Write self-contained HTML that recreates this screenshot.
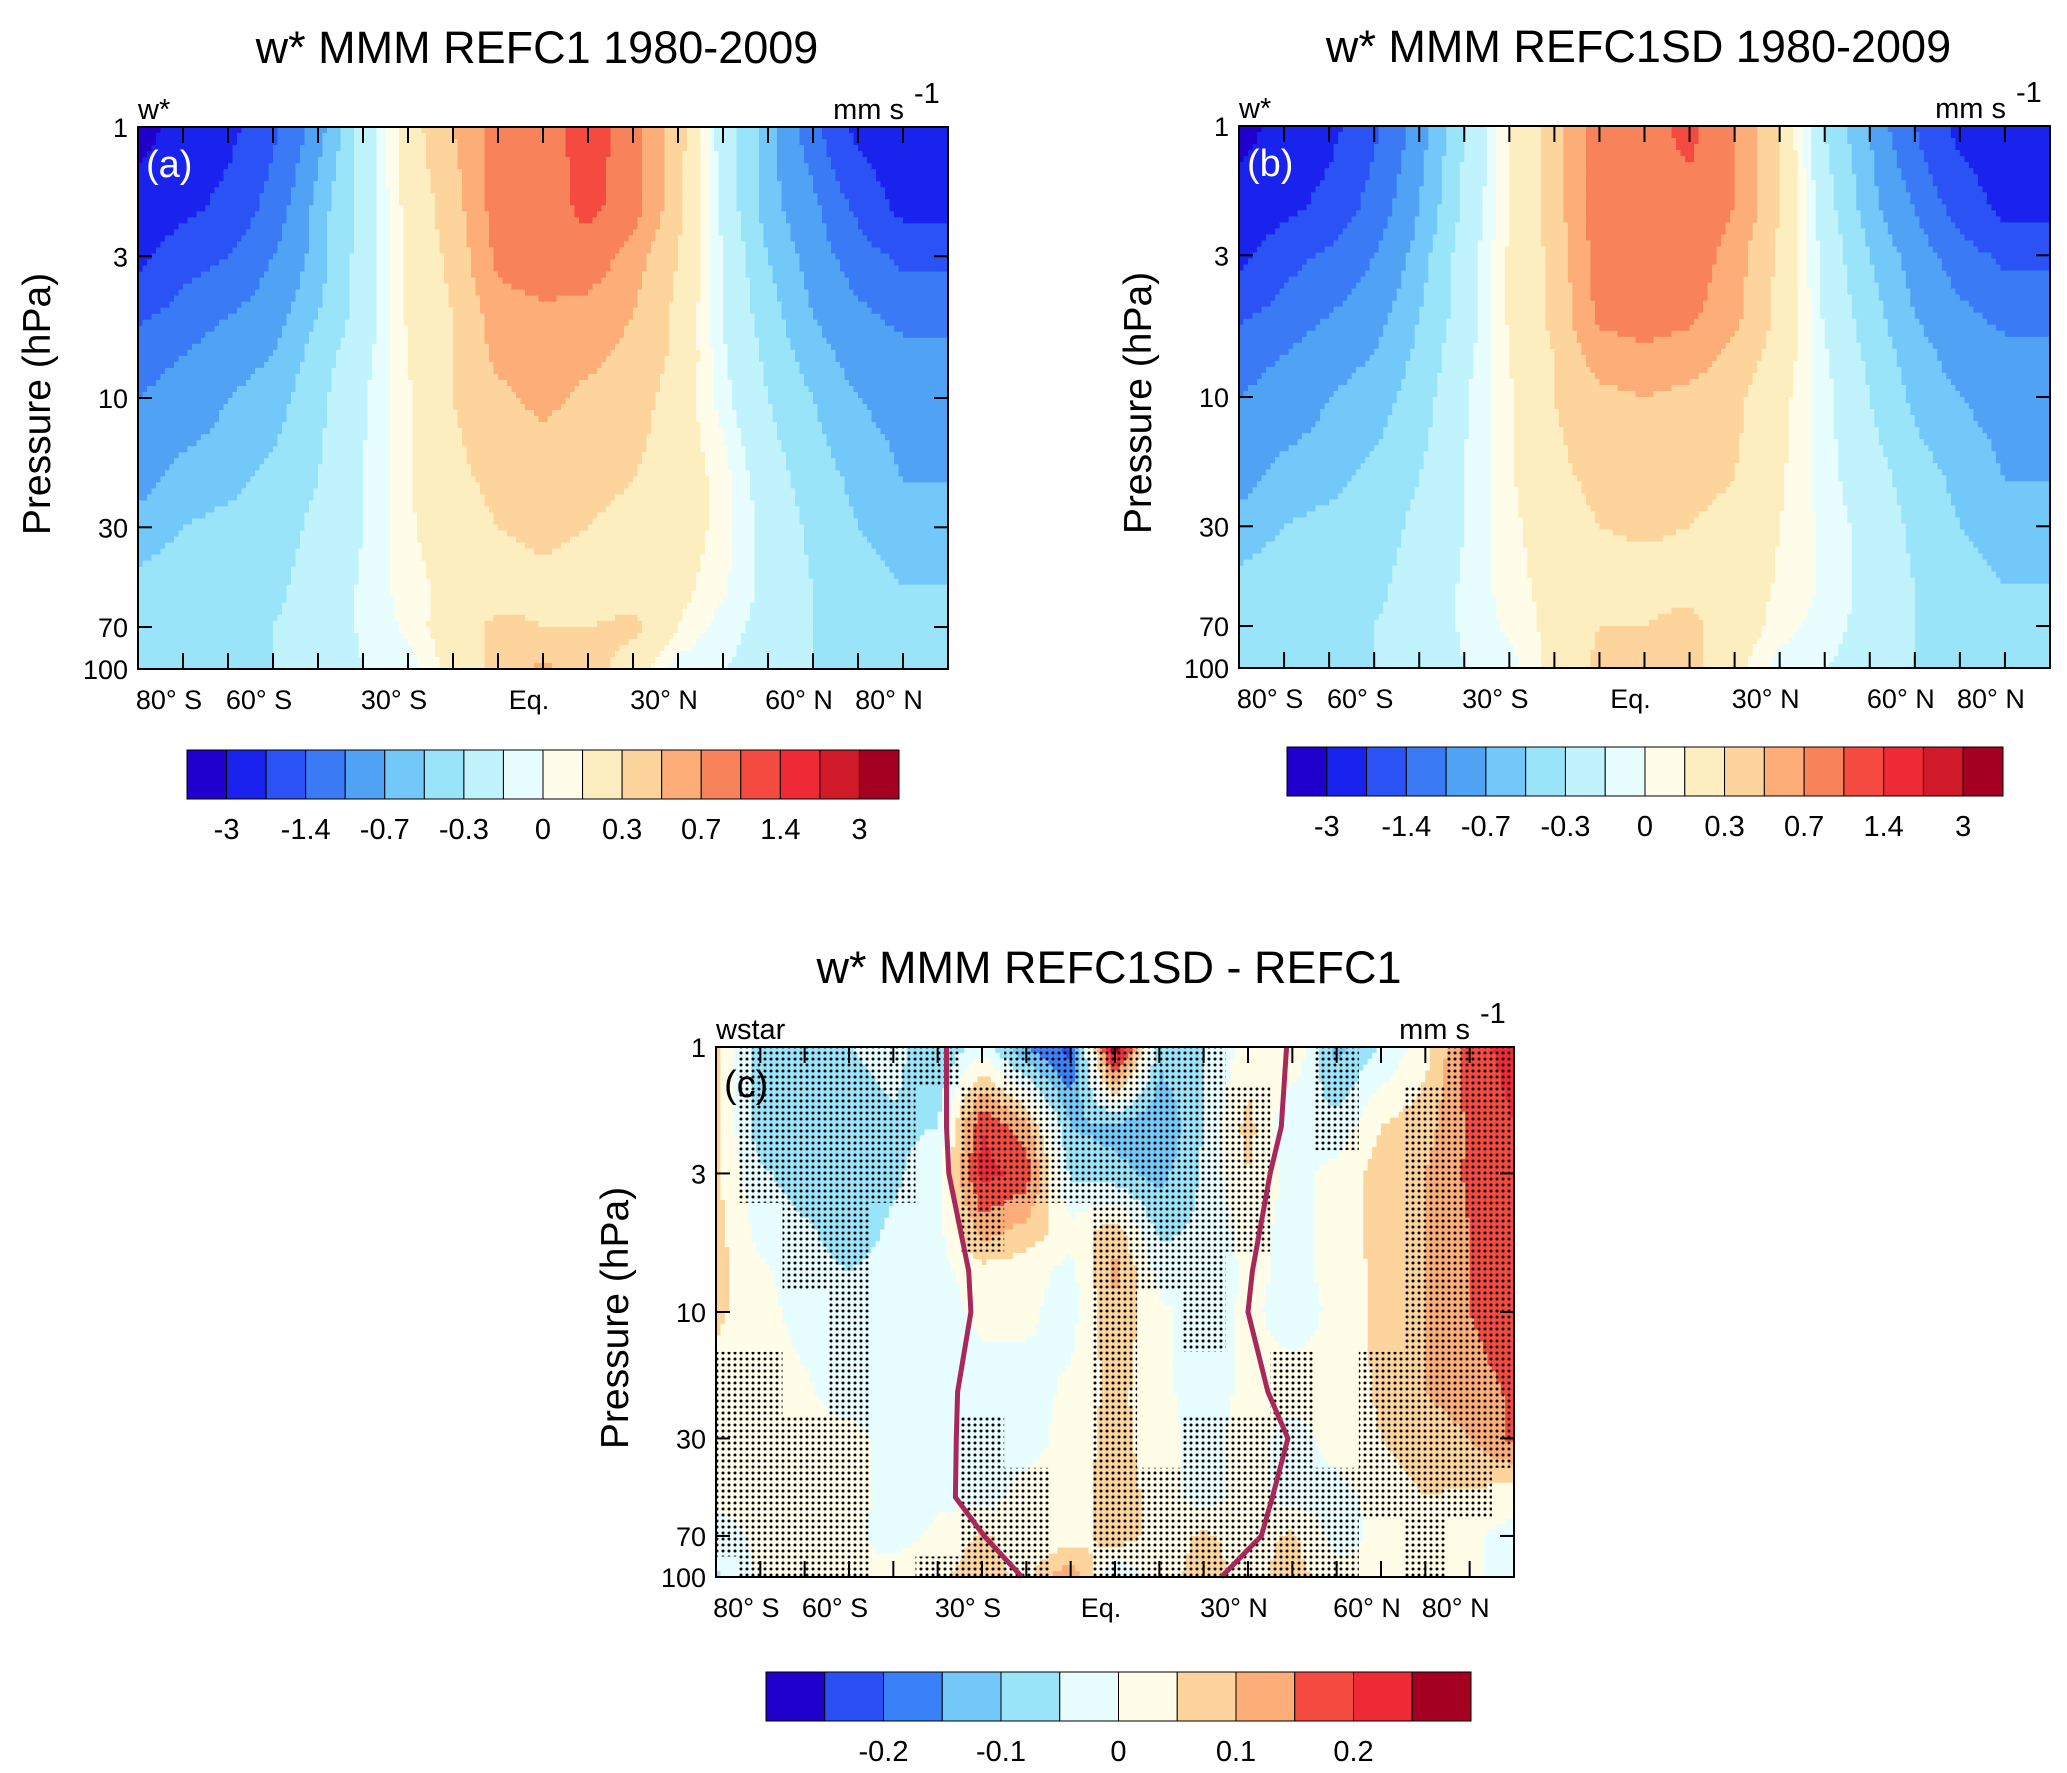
<!DOCTYPE html>
<html><head><meta charset="utf-8"><style>
html,body{margin:0;padding:0;background:#fff}
svg{display:block}
text{font-family:"Liberation Sans",Arial,sans-serif;fill:#000}
</style></head><body>
<svg id="fig" width="2067" height="1773" viewBox="0 0 2067 1773" xmlns="http://www.w3.org/2000/svg">
<defs>
<pattern id="stip" width="6" height="6" patternUnits="userSpaceOnUse"><circle cx="3" cy="3" r="1.5" fill="#000"/></pattern>
</defs>
</svg>
<script>
// ---- shared grid ----
const lats = [-90,-80,-70,-60,-50,-40,-30,-20,-10,0,10,20,30,40,50,60,70,80,90];
const levels = [1,2,3,5,7,10,20,30,50,70,100];
// ---- panel a: REFC1 (mm/s) ----
const valuesA = [
[-3.5,-2.5,-2.2,-1.5,-0.8,-0.2,0.2,0.5,0.8,0.8,1.2,0.8,0.4,-0.2,-0.6,-1.2,-2.2,-2.5,-2.5],
[-2.5,-2.2,-1.8,-1.2,-0.6,-0.2,0.15,0.4,0.8,0.8,1.1,0.8,0.35,-0.15,-0.6,-0.9,-1.5,-2.2,-2.2],
[-2.2,-1.6,-1.4,-1.0,-0.6,-0.2,0.15,0.35,0.75,0.85,0.85,0.6,0.3,-0.1,-0.5,-0.8,-1.2,-1.5,-1.5],
[-1.5,-1.2,-1.0,-0.8,-0.5,-0.2,0.12,0.3,0.6,0.65,0.6,0.5,0.25,-0.1,-0.4,-0.7,-0.9,-1.1,-1.1],
[-1.1,-1.0,-0.8,-0.7,-0.4,-0.15,0.1,0.3,0.55,0.6,0.55,0.45,0.25,-0.08,-0.35,-0.6,-0.8,-0.9,-0.9],
[-1.0,-0.9,-0.7,-0.6,-0.35,-0.12,0.08,0.3,0.45,0.55,0.45,0.4,0.2,-0.05,-0.3,-0.5,-0.7,-0.8,-0.8],
[-0.8,-0.6,-0.55,-0.45,-0.3,-0.1,0.08,0.25,0.35,0.4,0.35,0.3,0.2,0.05,-0.2,-0.4,-0.55,-0.7,-0.7],
[-0.6,-0.5,-0.45,-0.4,-0.25,-0.1,0.08,0.2,0.3,0.35,0.3,0.25,0.2,0.05,-0.15,-0.35,-0.5,-0.6,-0.6],
[-0.45,-0.4,-0.4,-0.35,-0.2,-0.08,0.05,0.15,0.2,0.25,0.2,0.2,0.15,0.02,-0.15,-0.3,-0.4,-0.5,-0.5],
[-0.4,-0.35,-0.35,-0.3,-0.2,-0.08,0.02,0.2,0.35,0.3,0.3,0.35,0.1,-0.05,-0.15,-0.3,-0.35,-0.5,-0.5],
[-0.35,-0.3,-0.3,-0.3,-0.2,-0.1,-0.05,0.15,0.35,0.55,0.4,0.2,-0.05,-0.1,-0.15,-0.3,-0.35,-0.5,-0.5]];
// ---- panel b: REFC1SD ----
const valuesB = [
[-3.5,-2.5,-2.2,-1.5,-0.8,-0.3,0.1,0.4,0.8,0.85,1.1,0.7,0.3,-0.3,-0.7,-1.4,-2.2,-2.5,-2.5],
[-2.5,-2.2,-1.8,-1.2,-0.7,-0.25,0.1,0.4,0.85,0.9,0.9,0.7,0.3,-0.2,-0.6,-1.0,-1.6,-2.2,-2.2],
[-2.2,-1.6,-1.3,-1.0,-0.6,-0.2,0.12,0.35,0.8,0.85,0.85,0.6,0.25,-0.15,-0.5,-0.8,-1.2,-1.5,-1.5],
[-1.5,-1.2,-1.0,-0.8,-0.5,-0.2,0.12,0.35,0.75,0.8,0.75,0.55,0.25,-0.12,-0.4,-0.7,-0.9,-1.1,-1.1],
[-1.1,-1.0,-0.8,-0.7,-0.45,-0.15,0.1,0.3,0.6,0.65,0.6,0.45,0.2,-0.08,-0.35,-0.6,-0.8,-0.9,-0.9],
[-1.0,-0.9,-0.7,-0.6,-0.4,-0.12,0.08,0.3,0.45,0.5,0.45,0.35,0.15,-0.05,-0.3,-0.55,-0.7,-0.8,-0.8],
[-0.8,-0.6,-0.55,-0.45,-0.3,-0.1,0.08,0.25,0.35,0.4,0.35,0.3,0.12,-0.05,-0.2,-0.4,-0.55,-0.7,-0.7],
[-0.6,-0.5,-0.45,-0.4,-0.25,-0.1,0.06,0.2,0.3,0.32,0.3,0.25,0.1,-0.03,-0.15,-0.35,-0.5,-0.6,-0.6],
[-0.45,-0.4,-0.4,-0.35,-0.2,-0.08,0.05,0.15,0.25,0.25,0.25,0.2,0.08,-0.02,-0.15,-0.3,-0.4,-0.5,-0.5],
[-0.4,-0.35,-0.35,-0.3,-0.2,-0.08,0.02,0.15,0.3,0.3,0.35,0.2,0.05,-0.05,-0.15,-0.3,-0.35,-0.5,-0.5],
[-0.35,-0.3,-0.3,-0.3,-0.2,-0.1,-0.05,0.15,0.35,0.5,0.35,0.15,-0.05,-0.1,-0.15,-0.3,-0.35,-0.5,-0.5]];
// ---- panel c: difference ----
const valuesC = [
[0.06,-0.08,-0.1,-0.05,-0.03,-0.1,-0.02,-0.15,-0.22,0.3,-0.08,-0.05,0.02,0.05,-0.12,-0.05,0.03,0.18,0.22],
[0.06,-0.08,-0.1,-0.08,-0.06,-0.05,0.2,0.12,-0.1,-0.12,-0.15,-0.05,0.07,-0.05,-0.03,0.05,0.08,0.16,0.2],
[0.06,-0.04,-0.08,-0.08,-0.06,-0.02,0.22,0.18,-0.06,-0.08,-0.12,-0.04,0.05,-0.02,0.02,0.07,0.1,0.16,0.2],
[0.07,-0.02,-0.04,-0.08,-0.04,-0.02,0.12,0.08,0.02,0.08,-0.06,-0.04,0.02,-0.02,0.02,0.07,0.1,0.15,0.2],
[0.07,0.01,-0.03,-0.05,-0.03,-0.02,0.03,0.02,-0.02,0.12,-0.02,-0.04,0.01,-0.01,0.01,0.07,0.1,0.15,0.2],
[0.06,0.02,-0.02,-0.04,-0.03,-0.02,0.01,0.01,-0.02,0.09,0.01,-0.02,0.01,-0.02,0.01,0.07,0.1,0.15,0.2],
[0.03,0.02,0.01,-0.03,-0.03,-0.02,-0.02,-0.02,0.01,0.07,0.01,-0.02,0.01,0.02,0.01,0.06,0.1,0.12,0.16],
[0.02,0.02,0.01,0.02,-0.02,-0.02,-0.02,-0.02,0.02,0.07,0.02,-0.02,0.02,-0.02,0.02,0.05,0.08,0.1,0.16],
[0.01,0.02,0.02,0.02,-0.02,-0.01,-0.02,0.02,0.01,0.09,0.02,-0.02,0.02,-0.02,-0.02,0.02,0.05,0.04,0.02],
[-0.02,0.01,0.02,0.01,-0.02,0.01,0.06,0.02,0.01,0.09,0.02,0.06,0.03,0.06,-0.02,0.01,0.02,0.01,-0.02],
[-0.06,0.01,0.02,0.01,0.02,0.04,0.08,0.03,0.15,-0.06,0.03,0.07,0.03,0.07,0.02,0.01,0.02,0.01,-0.02]];
const stippleC = [
[0,1,1,1,1,1,0,1,1,1,1,1,0,0,1,0,0,1,1],
[0,1,1,1,1,0,1,1,1,1,1,1,1,0,1,0,1,1,1],
[0,1,1,1,1,0,1,1,1,1,1,1,1,0,0,0,1,1,1],
[0,0,1,1,0,0,1,0,0,1,1,1,1,0,0,0,1,1,1],
[0,0,1,1,0,0,0,0,0,1,1,1,0,0,0,0,1,1,1],
[0,0,0,1,0,0,0,0,0,1,0,1,0,0,0,0,1,1,1],
[1,1,0,1,0,0,0,0,0,1,0,0,0,1,0,1,1,1,1],
[1,1,1,1,0,0,1,0,0,1,0,1,1,1,0,1,1,1,1],
[1,1,1,1,0,0,1,1,0,1,1,1,1,1,1,1,1,1,0],
[1,1,1,1,0,0,1,1,0,1,1,1,1,1,1,0,1,0,0],
[0,1,1,1,0,1,1,1,0,1,1,1,1,1,1,0,1,0,0]];
const pipeLevels = [1,2,3,7,10,20,30,50,70,100];
const pipeLeft = [-38,-38,-37.5,-33,-32.5,-35.5,-35.8,-36,-29.5,-21];
const pipeRight = [38.7,37.5,35,31,30,34.5,39,35.5,33,24];
// ---- colour scales ----
const boundsAB = [-3,-2,-1.4,-1,-0.7,-0.5,-0.3,-0.1,0,0.1,0.3,0.5,0.7,1,1.4,2,3];
const colorsAB = ["#2000cc","#1a22ee","#2a52f5","#3a7af5","#50a2f5","#72c8f8","#9ae4fa","#c0f3fb","#e8fdfd","#fffdea","#fdeec0","#fdd49c","#fcad78","#f8825a","#f54a40","#ee2a36","#d01a2a","#a50022"];
const barLabelsAB = ["-3","-1.4","-0.7","-0.3","0","0.3","0.7","1.4","3"];
const boundsC = [-0.25,-0.2,-0.15,-0.1,-0.05,0,0.05,0.1,0.15,0.2,0.25];
const colorsC = ["#2000cc","#2a4ff5","#3a80f8","#72c8f8","#9ae4fa","#e8fdfd","#fffde8","#fdd49c","#fcad78","#f54a40","#ee2a36","#a50022"];
const barLabelsC = ["-0.2","-0.1","0","0.1","0.2"];
const yTicks = [1,3,10,30,70,100];
const xTickLabels = [[-80,"80° S"],[-60,"60° S"],[-30,"30° S"],[0,"Eq."],[30,"30° N"],[60,"60° N"],[80,"80° N"]];

const NS="http://www.w3.org/2000/svg";
const svg=document.getElementById('fig');
function mk(tag,attrs,parent){const e=document.createElementNS(NS,tag);for(const k in attrs)e.setAttribute(k,attrs[k]);(parent||svg).appendChild(e);return e;}
function txt(s,x,y,size,anchor,parent,extra){const t=mk('text',Object.assign({x:x,y:y,'font-size':size,'text-anchor':anchor||'start'},extra||{}),parent);t.textContent=s;return t;}
function classify(v,bounds){let i=0;while(i<bounds.length&&v>=bounds[i])i++;return i;}
function interp(vals,lat,lp){
  const li=Math.min(lats.length-2,Math.max(0,Math.floor((lat+90)/10)));
  const ft=(lat-lats[li])/10;
  const ll=levels.map(Math.log10);
  let k=0;while(k<ll.length-2&&lp>ll[k+1])k++;
  const fp=Math.max(0,Math.min(1,(lp-ll[k])/(ll[k+1]-ll[k])));
  const a=vals[k][li]*(1-ft)+vals[k][li+1]*ft;
  const b=vals[k+1][li]*(1-ft)+vals[k+1][li+1]*ft;
  return a*(1-fp)+b*fp;
}
function panel(o){
  const g=mk('g',{});
  
  
  const X=lat=>o.x0+(lat+90)/180*(o.x1-o.x0);
  const Y=p=>o.y0+Math.log10(p)/2*(o.y1-o.y0);
  const field=mk('g',{},g);
  
  
  const NX=180,NY=90;const dx=(o.x1-o.x0)/NX,dy=(o.y1-o.y0)/NY;
  for(let j=0;j<NY;j++){
    const lp=(j+0.5)/NY*2;
    let start=0,cur=null;
    for(let i=0;i<=NX;i++){
      let c=null;
      if(i<NX){const lat=-90+(i+0.5)/NX*180;c=classify(interp(o.vals,lat,lp),o.bounds);}
      if(c!==cur){
        if(cur!==null){const r=mk('rect',{x:(o.x0+start*dx).toFixed(2),y:(o.y0+j*dy).toFixed(2),width:((i-start)*dx+0.6).toFixed(2),height:(dy+0.6).toFixed(2),fill:o.colors[cur]},field);
          
          }
        start=i;cur=c;
      }
    }
  }
  if(o.stip){
    const sg=mk('g',{},g);
    
    
    for(let k=0;k<levels.length;k++)for(let i=0;i<lats.length;i++){
      if(!o.stip[k][i])continue;
      const la0=Math.max(-90,lats[i]-5),la1=Math.min(90,lats[i]+5);
      const p0=k===0?1:Math.sqrt(levels[k-1]*levels[k]);
      const p1=k===levels.length-1?100:Math.sqrt(levels[k]*levels[k+1]);
      const r=mk('rect',{x:X(la0),y:Y(p0),width:X(la1)-X(la0),height:Y(p1)-Y(p0),fill:'url(#stip)'},sg);
      
      
    }
  }
  if(o.pipe){
    for(const arr of [pipeLeft,pipeRight]){
      const pts=pipeLevels.map((p,i)=>X(arr[i]).toFixed(1)+','+Y(p).toFixed(1)).join(' ');
      const pl=mk('polyline',{points:pts,fill:'none',stroke:'#a8285a',"stroke-width":5},g);
      
      
    }
  }
  const fr=mk('rect',{x:o.x0,y:o.y0,width:o.x1-o.x0,height:o.y1-o.y0,fill:'none',stroke:'#000','stroke-width':2},g);
  
  
  for(let la=-80;la<=80;la+=10){
    mk('line',{x1:X(la),x2:X(la),y1:o.y0,y2:o.y0+16,stroke:'#000','stroke-width':2},g);
    mk('line',{x1:X(la),x2:X(la),y1:o.y1,y2:o.y1-16,stroke:'#000','stroke-width':2},g);
  }
  for(const p of yTicks){
    mk('line',{x1:o.x0,x2:o.x0+14,y1:Y(p),y2:Y(p),stroke:'#000','stroke-width':2},g);
    mk('line',{x1:o.x1,x2:o.x1-14,y1:Y(p),y2:Y(p),stroke:'#000','stroke-width':2},g);
    const t=txt(String(p),o.x0-10,Y(p)+10,27,'end',g);
    
    
  }
  for(const [la,s] of xTickLabels){
    const t=txt(s,X(la)-14,o.y1+40,27,'middle',g);
    
    
  }
  const yl=txt('Pressure (hPa)',0,0,39,'middle',g,{transform:`translate(${o.x0-88},${(o.y0+o.y1)/2+6}) rotate(-90)`});
  
  
  const tt=txt(o.title,(o.x0+o.x1)/2-6,o.y0-64,45,'middle',g);
  
  
  const lv=txt(o.varname,o.x0,o.y0-8,29,'start',g);
  
  
  const un=txt('mm s',o.x1-44,o.y0-8,29,'end',g);
  
  
  txt('-1',o.x1-34,o.y0-24,29,'start',g);
  const pl=txt(o.tag,o.x0+8,o.y0+50,38,'start',g,{style:'fill:'+o.tagColor});
  
  
  const cb=mk('g',{},g);
  
  
  const n=o.colors.length,w=(o.cb[1]-o.cb[0])/n;
  o.colors.forEach((c,i)=>{const r=mk('rect',{x:o.cb[0]+i*w,y:o.cb[2],width:w,height:o.cb[3]-o.cb[2],fill:c,stroke:'#000','stroke-width':1},cb);
    
    });
  o.barLabels.forEach((s,i)=>{const bi=o.labelIdx[i];const t=txt(s,o.cb[0]+bi*w,o.cb[3]+40,29,'middle',cb);
    
    });
}
panel({name:'panel-a',x0:138,x1:948,y0:127,y1:669,vals:valuesA,bounds:boundsAB,colors:colorsAB,title:'w* MMM REFC1 1980-2009',varname:'w*',tag:'(a)',tagColor:'#fff',cb:[187,899,750,799],barLabels:barLabelsAB,labelIdx:[1,3,5,7,9,11,13,15,17]});
panel({name:'panel-b',x0:1239,x1:2050,y0:126,y1:668,vals:valuesB,bounds:boundsAB,colors:colorsAB,title:'w* MMM REFC1SD 1980-2009',varname:'w*',tag:'(b)',tagColor:'#fff',cb:[1287,2003,747,796],barLabels:barLabelsAB,labelIdx:[1,3,5,7,9,11,13,15,17]});
panel({name:'panel-c',x0:716,x1:1514,y0:1047,y1:1577,vals:valuesC,bounds:boundsC,colors:colorsC,stip:stippleC,pipe:true,title:'w* MMM REFC1SD - REFC1',varname:'wstar',tag:'(c)',tagColor:'#000',cb:[766,1471,1672,1721],barLabels:barLabelsC,labelIdx:[2,4,6,8,10]});
</script>
</body></html>
